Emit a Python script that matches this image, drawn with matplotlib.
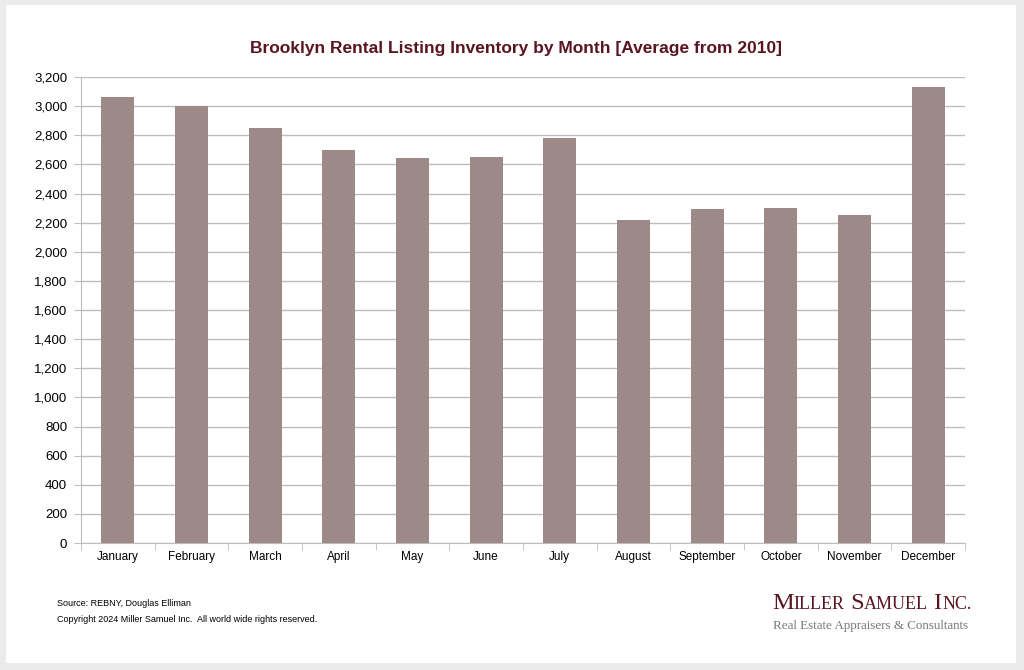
import matplotlib
matplotlib.use("Agg")
import matplotlib.pyplot as plt
from matplotlib.patches import Rectangle
from matplotlib.ticker import FuncFormatter, MultipleLocator

# data
months = ['January', 'February', 'March', 'April', 'May', 'June', 'July',
          'August', 'September', 'October', 'November', 'December']
inventory = [3060, 2998, 2853, 2697, 2647, 2653, 2779,
             2219, 2293, 2299, 2251, 3134]

title = 'Brooklyn Rental Listing Inventory by Month [Average from 2010]'
source_lines = ['Source: REBNY, Douglas Elliman',
                'Copyright 2024 Miller Samuel Inc.  All world wide rights reserved.']

maroon = '#5a1522'
bar_color = '#9d8987'
grid_color = '#bdbdbd'

plt.rcParams['font.family'] = ['Liberation Sans', 'DejaVu Sans']

W, H = 1024, 670
fig = plt.figure(figsize=(W / 100, H / 100), dpi=100)
fig.patch.set_facecolor('#ebebeb')

# white card behind everything
card = Rectangle((6 / W, 7 / H), (1016 - 6) / W, (665 - 7) / H,
                 transform=fig.transFigure, facecolor='white',
                 edgecolor='none', zorder=-10)
fig.patches.append(card)

ax = fig.add_axes([81 / W, (H - 543) / H, (965 - 81) / W, (543 - 77) / H])
ax.set_zorder(1)
ax.set_facecolor('none')
x = range(len(months))
ax.bar(x, inventory, width=0.45, color=bar_color, zorder=3)

ax.set_xlim(-0.5, len(months) - 0.5)
ax.set_ylim(0, 3200)
ax.yaxis.set_major_locator(MultipleLocator(200))
ax.yaxis.set_major_formatter(FuncFormatter(lambda v, p: f'{int(v):,}'))
ax.grid(axis='y', color=grid_color, linewidth=1.0, zorder=0)
ax.set_axisbelow(True)

ax.set_xticks(list(x))
ax.set_xticklabels(months)
ax.set_xticks([i - 0.5 for i in range(len(months) + 1)], minor=True)
ax.tick_params(axis='x', which='major', length=0, pad=6, labelsize=8.5)
ax.tick_params(axis='x', which='minor', length=5, color=grid_color, direction='out')
ax.tick_params(axis='y', length=5, color=grid_color, pad=5, labelsize=9.5)

for side in ['top', 'right']:
    ax.spines[side].set_visible(False)
ax.spines['left'].set_color(grid_color)
ax.spines['bottom'].set_color(grid_color)

fig.text(516 / W, 1 - 48 / H, title, ha='center', va='center',
         fontsize=12.5, fontweight='bold', color=maroon)

fig.text(57 / W, 1 - 604 / H, source_lines[0], fontsize=6.5, va='center')
fig.text(57 / W, 1 - 619 / H, source_lines[1], fontsize=6.5, va='center')

# logo: small caps serif drawn piece by piece
fig.canvas.draw()
renderer = fig.canvas.get_renderer()
pieces = [('M', 17.5), ('ILLER', 13), (' S', 17.5), ('AMUEL', 13), (' I', 17.5), ('NC.', 13)]
xpos = 772
for txt, size in pieces:
    t = fig.text(xpos / W, 1 - 609 / H, txt, fontsize=size, family='Liberation Serif',
                 color=maroon, va='baseline', ha='left')
    bb = t.get_window_extent(renderer)
    xpos += bb.width
fig.text(773 / W, 1 - 629 / H, 'Real Estate Appraisers & Consultants', fontsize=9.4,
         family='Liberation Serif', color='#777777', va='baseline', ha='left')

fig.savefig('out.png', dpi=100, facecolor=fig.get_facecolor())
